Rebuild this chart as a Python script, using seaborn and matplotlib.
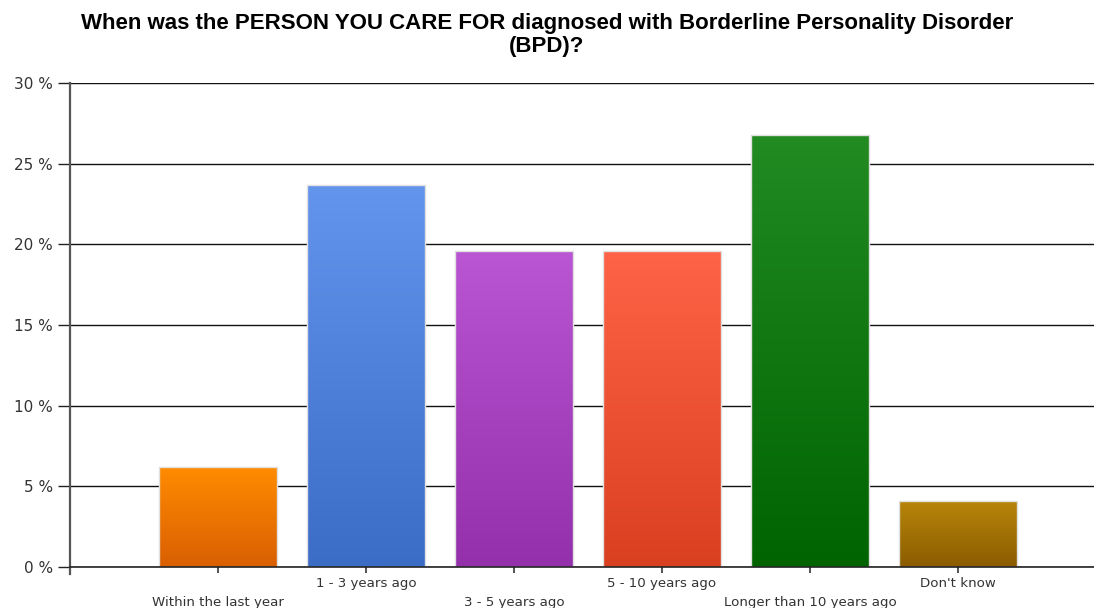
import numpy as np
import pandas as pd
import matplotlib
matplotlib.use("Agg")
import matplotlib.pyplot as plt
from matplotlib.colors import LinearSegmentedColormap
from matplotlib.ticker import FuncFormatter
import seaborn as sns

categories = ["Within the last year", "1 - 3 years ago", "3 - 5 years ago",
              "5 - 10 years ago", "Longer than 10 years ago", "Don't know"]
percent = [6.2, 23.7, 19.6, 19.6, 26.8, 4.1]
top_colors = ["#ff8c00", "#6495ed", "#ba55d3", "#ff6347", "#228b22", "#b8860b"]
bottom_colors = ["#d95f02", "#3b6cc6", "#9430ab", "#d94020", "#006400", "#8b5c00"]
title = "When was the PERSON YOU CARE FOR diagnosed with Borderline Personality Disorder\n(BPD)?"

sns.set_theme(style="white")
plt.rcParams["font.family"] = ["DejaVu Sans"]

df = pd.DataFrame({"category": categories, "percent": percent})

fig = plt.figure(figsize=(10.94, 6.08), dpi=100)
ax = fig.add_axes([70 / 1094, 41 / 608, 1024 / 1094, 484 / 608])

sns.barplot(data=df, x="category", y="percent", hue="category",
            palette=top_colors, legend=False, width=0.8, ax=ax,
            edgecolor="#e0e0e0", linewidth=1.0, zorder=3)

# vertical gradient fill for each bar, clipped to the bar rectangle
for patch, c_top, c_bot in zip(ax.patches, top_colors, bottom_colors):
    x0, y0 = patch.get_x(), patch.get_y()
    w, h = patch.get_width(), patch.get_height()
    cmap = LinearSegmentedColormap.from_list("g", [c_bot, c_top])
    grad = np.linspace(0, 1, 256).reshape(-1, 1)
    im = ax.imshow(grad, cmap=cmap, aspect="auto", origin="lower",
                   extent=(x0, x0 + w, y0, y0 + h), zorder=3.5,
                   interpolation="bilinear")
    im.set_clip_path(patch)
    patch.set_facecolor("none")
    patch.set_zorder(4)

ax.set_xlim(-1.0, 5.92)
ax.set_ylim(0, 30)

ax.set_yticks(np.arange(0, 31, 5))
ax.yaxis.set_major_formatter(FuncFormatter(lambda v, p: f"{int(v)} %"))
ax.grid(axis="y", color="#111111", linewidth=1.0, zorder=1)
ax.grid(axis="x", visible=False)

ax.tick_params(axis="y", direction="out", length=8.6, width=1, color="#222222",
               pad=3.6, labelsize=11, labelcolor="#333333", left=True)
ax.tick_params(axis="x", direction="out", length=4.5, width=1.2, color="#333333",
               labelsize=9.6, labelcolor="#333333", bottom=True)

ax.set_xlabel("")
ax.set_ylabel("")
# staggered category labels: alternate rows
for i, tick in enumerate(ax.xaxis.get_major_ticks()):
    tick.set_pad(16.5 if i % 2 == 0 else 2.5)

for side in ("top", "right"):
    ax.spines[side].set_visible(False)
ax.spines["left"].set_color("#555555")
ax.spines["left"].set_linewidth(1.6)
ax.spines["left"].set_zorder(5)
ax.spines["left"].set_bounds(-0.45, 30)
ax.spines["bottom"].set_color("#222222")
ax.spines["bottom"].set_linewidth(1.2)
ax.spines["bottom"].set_zorder(5)

fig.text(0.5, 0.979, title, ha="center", va="top", fontsize=16,
         fontweight="bold", color="#000000",
         family=["Liberation Sans Narrow", "Liberation Sans", "DejaVu Sans"],
         linespacing=1.12)

fig.savefig("out.png", dpi=100)
